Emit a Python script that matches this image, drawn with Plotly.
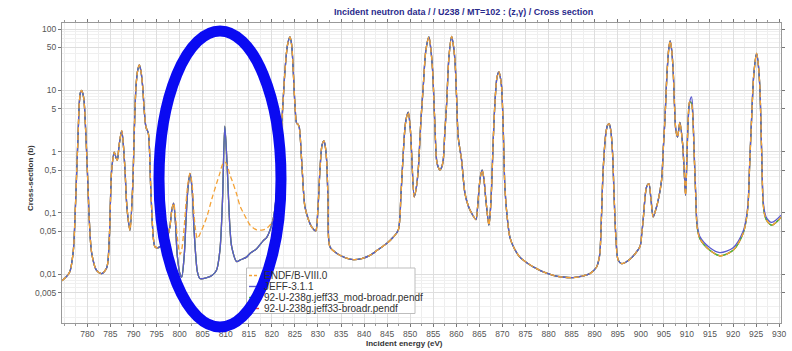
import plotly.graph_objects as go

# ---------------- data ----------------
# shared low-energy segment (all four evaluations coincide)
E_lo = [774.5, 775.5, 776.2, 776.95, 777.4, 777.7, 778.0, 778.25, 778.5, 778.77,
        779.0, 779.27, 779.55, 779.85, 780.15, 780.42, 780.94, 782.0, 783.1, 784.2,
        784.75, 785.0, 785.27, 785.84, 786.2, 786.49, 786.9, 787.44, 787.8, 788.16,
        788.5, 788.87, 789.24, 789.83, 790.2, 790.54, 790.9, 791.26, 791.6, 792.0,
        792.35, 792.71, 793.21, 793.73, 794.29, 794.66, 795.3]
xs_lo = [0.0078, 0.0092, 0.011, 0.024, 0.12, 0.5, 2.0, 6.1, 9.2, 10.0,
         9.0, 6.9, 3.0, 0.94, 0.25, 0.076, 0.022, 0.0115, 0.0102, 0.0128,
         0.038, 0.15, 0.5, 0.98, 0.8, 0.72, 1.3, 2.2, 1.3, 0.5,
         0.15, 0.076, 0.052, 0.27, 2.5, 11.3, 21.0, 26.0, 21.0, 11.3,
         4.5, 2.5, 2.0, 0.27, 0.04, 0.028, 0.027]

# middle segment where ENDF/B-VIII.0 differs from the JEFF-based files
E_mid = [796.2, 797.3, 797.9, 798.3, 798.7, 799.1, 799.5, 800.1, 800.45, 801.0,
         801.4, 801.8, 802.25, 802.7, 803.1, 803.5, 803.85, 804.4, 805.9, 807.0,
         808.0, 808.75, 809.3, 809.8, 810.3, 810.9, 811.3, 812.4, 813.1, 814.5,
         815.3, 816.7, 818.1, 818.9, 820.3, 821.0, 821.7]
endf_mid = [0.03, 0.04, 0.06, 0.11, 0.144, 0.09, 0.04, 0.021, 0.025, 0.06,
            0.15, 0.3, 0.44, 0.3, 0.1, 0.05, 0.038, 0.045, 0.086, 0.17,
            0.3, 0.45, 0.62, 0.68, 0.6, 0.42, 0.35, 0.2, 0.13, 0.08,
            0.063, 0.053, 0.053, 0.056, 0.075, 0.13, 1.0]
jeff_mid = [0.03, 0.04, 0.06, 0.11, 0.144, 0.07, 0.02, 0.01, 0.009, 0.02,
            0.08, 0.25, 0.44, 0.25, 0.06, 0.02, 0.011, 0.0085, 0.0088, 0.0095,
            0.0116, 0.025, 0.16, 2.6, 0.6, 0.06, 0.028, 0.016, 0.017, 0.019,
            0.022, 0.026, 0.035, 0.04, 0.08, 0.2, 0.9]

# shared high-energy segment
E_hi = [822.1, 822.5, 822.85, 823.4, 823.93, 824.3, 824.64, 825.0, 825.38, 825.65,
        825.94, 826.46, 827.18, 828.0, 828.63, 829.5, 830.0, 830.43, 830.9, 831.3,
        831.6, 831.88, 832.2, 832.6, 834.05, 836.0, 837.65, 839.5, 841.27, 843.0,
        844.89, 846.3, 847.4, 848.0, 848.49, 849.0, 849.57, 850.0, 850.31, 850.87,
        851.3, 851.74, 852.3, 852.82, 853.4, 854.06, 854.5, 854.86, 855.3, 855.73,
        856.1, 856.44, 856.8, 857.16, 857.5, 857.9, 858.4, 858.98, 859.35, 859.7,
        860.05, 860.41, 861.15, 861.86, 862.6, 863.31, 864.25, 864.6, 864.96, 865.3,
        865.61, 866.0, 866.35, 867.06, 867.35, 867.65, 868.0, 868.37, 868.8, 869.23,
        869.5, 869.82, 870.2, 870.53, 871.0, 871.62, 872.6, 873.79, 875.5, 877.41,
        879.0, 881.01, 883.0, 885.34, 887.0, 888.96, 890.41, 890.8, 891.13, 891.5,
        891.84, 892.43, 892.8, 893.14, 893.5, 893.88, 894.2, 894.6, 895.09, 895.83,
        897.63, 899.8, 900.2, 900.51, 901.25, 901.75, 902.2, 902.68, 903.2, 903.77,
        904.5, 904.9, 905.22, 905.7, 906.1, 906.37, 906.7, 907.02, 907.3, 907.6,
        907.97, 908.47, 909.06, 909.4, 909.71, 910.0, 910.27, 910.6]
xs_hi = [2.5, 8.0, 21.0, 55.0, 74.0, 55.0, 21.0, 6.0, 2.9, 2.8,
         2.5, 0.72, 0.125, 0.075, 0.059, 0.051, 0.12, 0.5, 1.3, 1.5,
         1.2, 0.72, 0.15, 0.028, 0.022, 0.0185, 0.0173, 0.018, 0.0203, 0.025,
         0.0316, 0.04, 0.052, 0.2, 0.94, 3.0, 4.4, 2.5, 0.94, 0.182,
         0.25, 0.5, 3.0, 11.3, 45.0, 74.0, 45.0, 21.0, 3.5, 0.72,
         0.55, 0.5, 0.55, 0.72, 2.0, 6.1, 35.0, 76.0, 55.0, 31.0,
         8.0, 1.73, 0.72, 0.21, 0.13, 0.099, 0.078, 0.12, 0.265, 0.42,
         0.5, 0.35, 0.182, 0.063, 0.1, 0.265, 1.5, 6.1, 16.0, 20.0,
         17.0, 11.3, 2.0, 0.265, 0.09, 0.04, 0.026, 0.019, 0.015, 0.0123,
         0.0108, 0.0096, 0.009, 0.0088, 0.0092, 0.0102, 0.0131, 0.016, 0.022, 0.1,
         0.5, 2.0, 2.7, 2.86, 2.2, 0.94, 0.2, 0.04, 0.017, 0.0149,
         0.0175, 0.028, 0.045, 0.076, 0.265, 0.3, 0.17, 0.086, 0.11, 0.16,
         0.34, 1.2, 3.2, 20.0, 50.0, 64.0, 45.0, 21.0, 6.0, 2.23,
         1.73, 3.0, 1.35, 0.5, 0.194, 0.8, 3.2, 6.5]

# upper end, where JEFF-3.1.1 sits slightly above the other curves
E_top = [911.01, 911.3, 911.57, 911.9, 912.22, 912.81, 914.98, 917.14, 920.03, 922.19,
         922.9, 923.28, 923.6, 924.01, 924.5, 925.1, 925.4, 925.81, 926.2, 926.53,
         926.9, 927.26, 928.35, 929.43, 930.4]
endf_top = [6.1, 3.5, 0.94, 0.2, 0.059, 0.038, 0.0245, 0.020, 0.0245, 0.0465,
            0.08, 0.144, 0.6, 3.2, 18.0, 40.0, 30.0, 11.3, 1.0, 0.144,
            0.09, 0.076, 0.063, 0.071, 0.085]
jeff_top = [7.8, 4.0, 1.0, 0.22, 0.064, 0.041, 0.027, 0.0225, 0.027, 0.05,
            0.085, 0.15, 0.62, 3.3, 18.0, 40.0, 30.0, 11.3, 1.05, 0.16,
            0.1, 0.083, 0.07, 0.078, 0.092]

series_names = ["ENDF/B-VIII.0", "JEFF-3.1.1",
                "92-U-238g.jeff33_mod-broadr.pendf", "92-U-238g.jeff33-broadr.pendf"]
series_colors = ["#f4a236", "#5a5ad0", "#3fc43f", "#e0464b"]
series_dash = ["5px,3px", "solid", "solid", "solid"]

y_tickvals = [0.005, 0.01, 0.05, 0.1, 0.5, 1, 5, 10, 50, 100]
y_ticktext = ["0,005", "0,01", "0,05", "0,1", "0,5", "1", "5", "10", "50", "100"]
x_tickvals = list(range(780, 931, 5))

# ---------------- build series ----------------
energy = E_lo + E_mid + E_hi + E_top
curves = {
    series_names[0]: xs_lo + endf_mid + xs_hi + endf_top,
    series_names[1]: xs_lo + jeff_mid + xs_hi + jeff_top,
    series_names[2]: xs_lo + jeff_mid + xs_hi + endf_top,
    series_names[3]: xs_lo + jeff_mid + xs_hi + endf_top,
}

fig = go.Figure()
# draw in reverse so the dashed ENDF curve is on top
for name, color, dash in reversed(list(zip(series_names, series_colors, series_dash))):
    fig.add_trace(go.Scatter(
        x=energy, y=curves[name], mode="lines", name=name, showlegend=False,
        line=dict(color=color, width=1.3, dash=dash, shape="spline", smoothing=0.8),
    ))

# ---- compact legend box (drawn as shapes + text, like the original) ----
P_L, P_T, P_W, P_H = 62, 23, 719, 300   # plot area in pixels (for legend placement)
def px_x(p):
    return (p - P_L) / P_W
def px_y(p):
    return (P_T + P_H - p) / P_H

shapes = [dict(type="rect", xref="paper", yref="paper",
               x0=px_x(246.5), x1=px_x(415), y0=px_y(313.5), y1=px_y(268),
               line=dict(color="#bdbdbd", width=1), fillcolor="white", layer="above")]
annotations = []
legend_rows = [275.5, 286.5, 297.5, 308.5]
for name, color, dash, row in zip(series_names, series_colors, series_dash, legend_rows):
    shapes.append(dict(type="line", xref="paper", yref="paper",
                       x0=px_x(249), x1=px_x(259), y0=px_y(row), y1=px_y(row),
                       line=dict(color=color, width=1.4,
                                 dash="3px,2px" if dash != "solid" else "solid"),
                       layer="above"))
    annotations.append(dict(text=name, xref="paper", yref="paper",
                            x=px_x(261.5), y=px_y(row), xanchor="left", yanchor="middle",
                            showarrow=False,
                            font=dict(size=10, color="#333333")))

# highlight ellipse drawn over the chart
shapes.append(dict(type="circle", xref="paper", yref="paper",
                   x0=px_x(159), x1=px_x(281), y0=px_y(327), y1=px_y(31),
                   line=dict(color="#0a0af2", width=11), fillcolor="rgba(0,0,0,0)",
                   layer="above"))

annotations += [
    dict(text="<b>Incident neutron data / / U238 / MT=102 : (z,γ) / Cross section</b>",
         xref="paper", yref="paper", x=px_x(464), y=px_y(12), xanchor="center",
         yanchor="middle", showarrow=False, font=dict(size=9, color="#2b2b8c")),
    dict(text="<b>Cross-section (b)</b>", textangle=-90,
         xref="paper", yref="paper", x=px_x(31), y=px_y(178), xanchor="center",
         yanchor="middle", showarrow=False, font=dict(size=8, color="#333333")),
    dict(text="<b>Incident energy (eV)</b>",
         xref="paper", yref="paper", x=px_x(404), y=px_y(343), xanchor="center",
         yanchor="middle", showarrow=False, font=dict(size=8, color="#333333")),
]

axis_font = dict(family="Liberation Sans, Arial, sans-serif", size=8.5, color="#555555")

fig.update_layout(
    width=792, height=351,
    margin=dict(l=62, r=11, t=23, b=28, autoexpand=False),
    paper_bgcolor="white", plot_bgcolor="white",
    font=dict(family="Liberation Sans, Arial, sans-serif", color="#333333"),
    showlegend=False,
    xaxis=dict(
        range=[774.5, 930.4], tickvals=x_tickvals,
        ticktext=[str(v) for v in x_tickvals],
        tickfont=axis_font, ticks="outside", ticklen=3, tickcolor="#777777",
        showline=True, linecolor="#999999", linewidth=1, mirror="ticks",
        showgrid=True, gridcolor="#dedede", gridwidth=1,
        minor=dict(dtick=2.5, showgrid=True, gridcolor="#eeeeee", ticks="outside",
                   ticklen=2, tickcolor="#999999"),
        zeroline=False,
    ),
    yaxis=dict(
        type="log", range=[-2.796, 2.098],
        tickvals=y_tickvals, ticktext=y_ticktext,
        tickfont=axis_font, ticks="outside", ticklen=3, tickcolor="#777777",
        showline=True, linecolor="#999999", linewidth=1, mirror="ticks",
        showgrid=True, gridcolor="#dedede", gridwidth=1,
        minor=dict(dtick="D1", showgrid=True, gridcolor="#f0f0f0"),
        zeroline=False,
    ),
    annotations=annotations,
    shapes=shapes,
)

fig.write_html("out.html")
